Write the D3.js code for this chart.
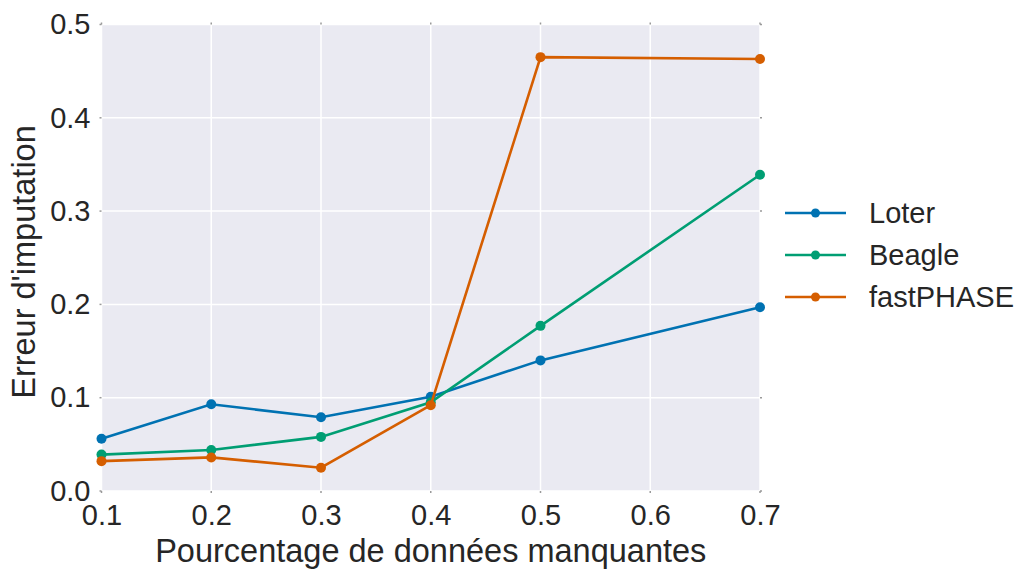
<!DOCTYPE html>
<html><head><meta charset="utf-8">
<script src="https://cdn.jsdelivr.net/npm/d3@7"></script>
<style>body{margin:0;background:#fff}svg{display:block;font-family:"Liberation Sans",Arial,sans-serif}</style>
</head><body><svg id="c" width="1021" height="572"></svg>
<script>
const xValues = [0.1, 0.2, 0.3, 0.4, 0.5, 0.7];
const loter = [0.056, 0.093, 0.079, 0.101, 0.140, 0.197];
const beagle = [0.039, 0.044, 0.058, 0.095, 0.177, 0.339];
const fastphase = [0.032, 0.036, 0.025, 0.092, 0.465, 0.463];
const seriesNames = ["Loter", "Beagle", "fastPHASE"];
const colors = ["#0072B2", "#009E73", "#D55E00"];
const xTicks = [0.1, 0.2, 0.3, 0.4, 0.5, 0.6, 0.7];
const yTicks = [0.0, 0.1, 0.2, 0.3, 0.4, 0.5];

const svg = d3.select("#c");
const L = 101.5, R = 760, T = 24.5, B = 491;
const x = d3.scaleLinear().domain([0.1, 0.7]).range([L, R]);
const y = d3.scaleLinear().domain([0, 0.5]).range([B, T]);
const txt = "#262626";

svg.append("rect").attr("x", L).attr("y", T).attr("width", R - L).attr("height", B - T).attr("fill", "#EAEAF2");
svg.append("g").selectAll("line").data(xTicks).join("line")
  .attr("x1", d => x(d)).attr("x2", d => x(d)).attr("y1", T).attr("y2", B)
  .attr("stroke", "#fff").attr("stroke-width", 1.5);
svg.append("g").selectAll("line").data(yTicks).join("line")
  .attr("y1", d => y(d)).attr("y2", d => y(d)).attr("x1", L).attr("x2", R)
  .attr("stroke", "#fff").attr("stroke-width", 1.5);

// tiny tick marks on all sides
const tk = svg.append("g").attr("stroke", "#9a9a9a").attr("stroke-width", 1.5);
tk.selectAll(".tb").data(xTicks).join("line").attr("x1", d => x(d)).attr("x2", d => x(d)).attr("y1", B).attr("y2", B + 2);
tk.selectAll(".tt").data(xTicks).join("line").attr("x1", d => x(d)).attr("x2", d => x(d)).attr("y1", T - 2).attr("y2", T);
tk.selectAll(".tl").data(yTicks).join("line").attr("y1", d => y(d)).attr("y2", d => y(d)).attr("x1", L - 2).attr("x2", L);
tk.selectAll(".tr").data(yTicks).join("line").attr("y1", d => y(d)).attr("y2", d => y(d)).attr("x1", R).attr("x2", R + 2);

const xAxis = svg.append("g").attr("transform", `translate(0,${B})`)
  .call(d3.axisBottom(x).tickValues(xTicks).tickFormat(d3.format(".1f")).tickSize(0).tickPadding(13));
xAxis.select(".domain").remove();
xAxis.selectAll("text").attr("font-size", 29).attr("fill", txt).attr("font-family", "Liberation Sans, Arial, sans-serif");

const yAxis = svg.append("g").attr("transform", `translate(${L},0)`)
  .call(d3.axisLeft(y).tickValues(yTicks).tickFormat(d3.format(".1f")).tickSize(0).tickPadding(11));
yAxis.select(".domain").remove();
yAxis.selectAll("text").attr("font-size", 29).attr("fill", txt).attr("font-family", "Liberation Sans, Arial, sans-serif");

svg.append("text").attr("x", (L + R) / 2).attr("y", 562).attr("text-anchor", "middle")
  .attr("font-size", 32.5).attr("fill", txt).text("Pourcentage de données manquantes");
svg.append("text").attr("transform", `translate(35,262) rotate(-90)`).attr("text-anchor", "middle")
  .attr("font-size", 32.5).attr("fill", txt).text("Erreur d'imputation");

const data = [loter, beagle, fastphase];
const line = d3.line().x((d, i) => x(xValues[i])).y(d => y(d));
data.forEach((s, k) => {
  const g = svg.append("g");
  g.append("path").datum(s).attr("d", line).attr("fill", "none").attr("stroke", colors[k]).attr("stroke-width", 2.6);
  g.selectAll("circle").data(s).join("circle").attr("cx", (d, i) => x(xValues[i])).attr("cy", d => y(d)).attr("r", 5).attr("fill", colors[k]);
});

const leg = svg.append("g");
seriesNames.forEach((n, k) => {
  const ly = 213 + k * 42;
  leg.append("line").attr("x1", 785).attr("x2", 846).attr("y1", ly).attr("y2", ly).attr("stroke", colors[k]).attr("stroke-width", 2.6);
  leg.append("circle").attr("cx", 815.5).attr("cy", ly).attr("r", 4.5).attr("fill", colors[k]);
  leg.append("text").attr("x", 869).attr("y", ly + 10).attr("font-size", 29).attr("fill", txt).text(n);
});
</script></body></html>
